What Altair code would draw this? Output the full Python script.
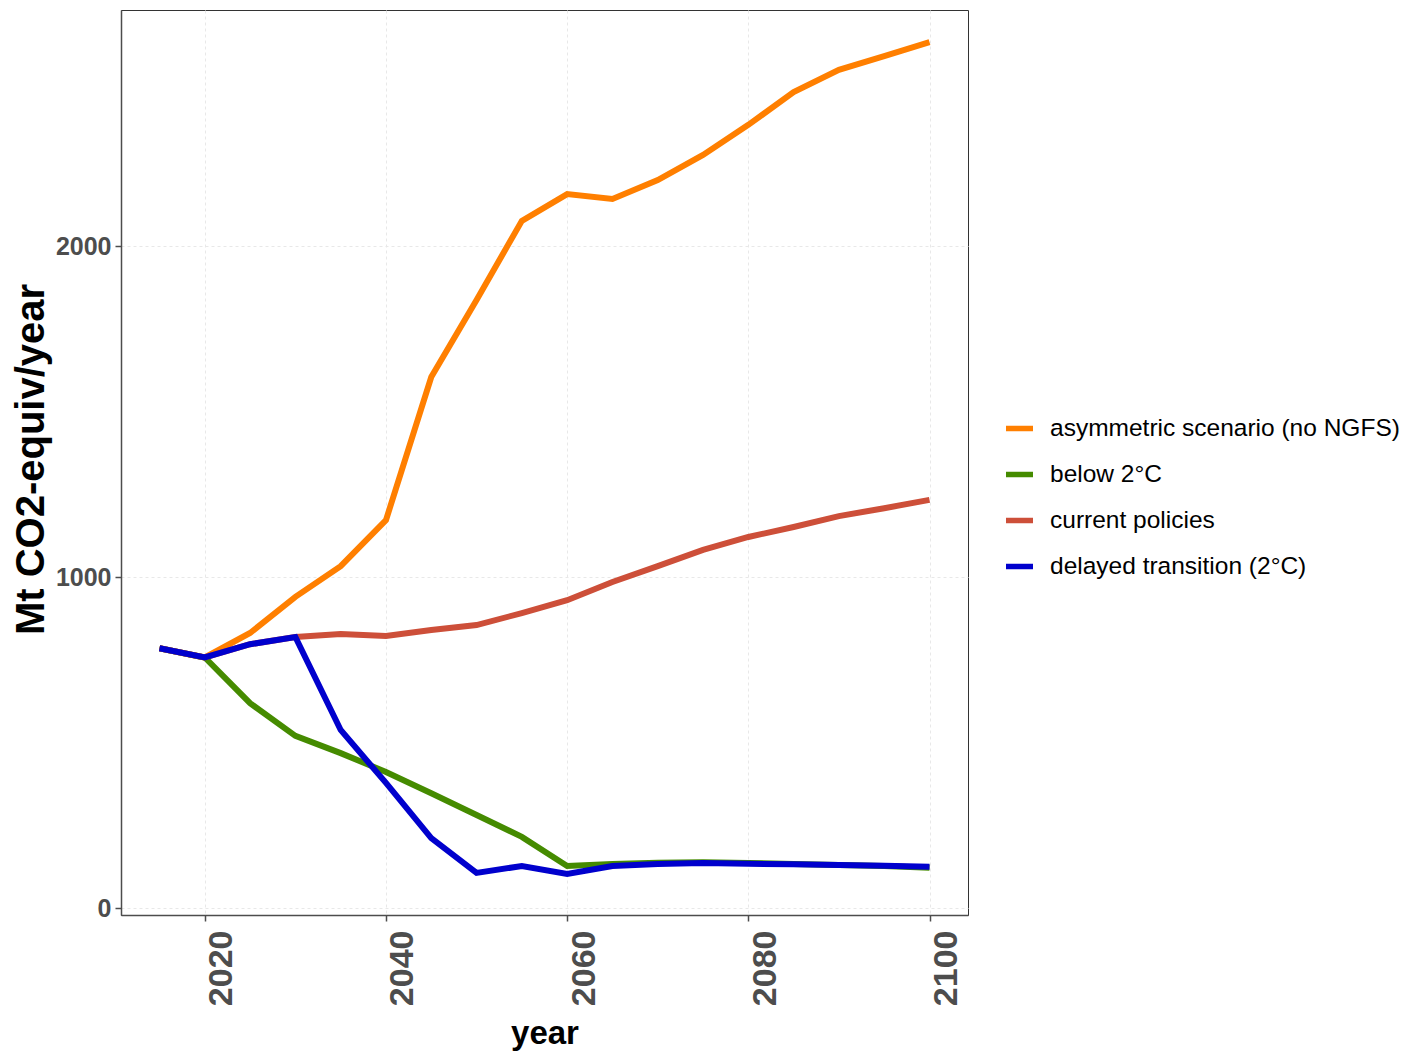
import altair as alt
import pandas as pd

years = [2015, 2020, 2025, 2030, 2035, 2040, 2045, 2050, 2055, 2060,
         2065, 2070, 2075, 2080, 2085, 2090, 2095, 2100]

scenarios = ["asymmetric scenario (no NGFS)", "below 2°C",
             "current policies", "delayed transition (2°C)"]
colors = ["#FF7F00", "#458B00", "#CD4F39", "#0000CD"]

asymmetric = [785, 757, 831, 940, 1033, 1172, 1604, 1837, 2076, 2157,
              2142, 2199, 2275, 2366, 2465, 2532, 2574, 2616]
below2 = [785, 757, 619, 520, 468, 411, 347, 281, 215, 127,
          133, 137, 138, 136, 133, 130, 127, 122]
current = [785, 757, 797, 819, 828, 822, 840, 855, 891, 930,
           985, 1033, 1082, 1121, 1151, 1184, 1208, 1233]
delayed = [785, 757, 797, 819, 538, 378, 211, 106, 127, 103,
           127, 133, 136, 134, 132, 130, 128, 125]

series = [asymmetric, below2, current, delayed]
rows = []
for name, vals in zip(scenarios, series):
    for y, v in zip(years, vals):
        rows.append({"year": y, "value": v, "scenario": name})
df = pd.DataFrame(rows)

font = "Liberation Sans, Arial, sans-serif"

chart = alt.Chart(df).mark_line(strokeWidth=6, strokeCap="butt", strokeJoin="miter").encode(
    x=alt.X("year:Q",
            scale=alt.Scale(domain=[2010.75, 2104.25], nice=False, zero=False),
            axis=alt.Axis(values=[2020, 2040, 2060, 2080, 2100], title="year",
                          labelAngle=270, labelBaseline="top", labelAlign="right",
                          labelFontSize=34, labelPadding=9, format="d",
                          titleBaseline="alphabetic", titleY=128)),
    y=alt.Y("value:Q",
            scale=alt.Scale(domain=[-21, 2713], nice=False, zero=False),
            axis=alt.Axis(values=[0, 1000, 2000], title="Mt CO2-equiv/year", format="d",
                          labelFontSize=25, labelPadding=4,
                          titleAngle=270, titleBaseline="alphabetic", titleAlign="center",
                          titleX=-78, titleY=449)),
    color=alt.Color("scenario:N",
                    scale=alt.Scale(domain=scenarios, range=colors),
                    legend=alt.Legend(title=None, orient="none", legendX=882, legendY=402,
                                      symbolType="stroke", symbolSize=729,
                                      symbolStrokeWidth=5.5, rowPadding=18,
                                      labelFont=font, labelFontSize=24.5,
                                      labelFontWeight="normal", labelColor="#000000",
                                      labelOffset=14, labelLimit=500)),
    order=alt.Order("year:Q"),
).properties(
    width=847, height=905,
    autosize=alt.AutoSizeParams(type="none"),
    padding={"left": 113, "top": 2, "right": 445, "bottom": 137},
).configure_view(
    stroke="#333333", strokeWidth=1
).configure_axis(
    grid=True, gridColor="#e8e8e8", gridDash=[3, 3], gridWidth=1,
    domainColor="#4d4d4d", domainWidth=1.5,
    tickColor="#4d4d4d", tickSize=6, tickWidth=1.5,
    labelFont=font, labelFontWeight="bold", labelColor="#4d4d4d",
).configure_axisX(
    titleFont=font, titleFontSize=33, titleFontWeight="bold", titleColor="#000000",
).configure_axisY(
    titleFont=font, titleFontSize=40,
    titleFontWeight="bold", titleColor="#000000",
)

chart.save("out.html", embed_options={"renderer": "svg", "actions": False})
